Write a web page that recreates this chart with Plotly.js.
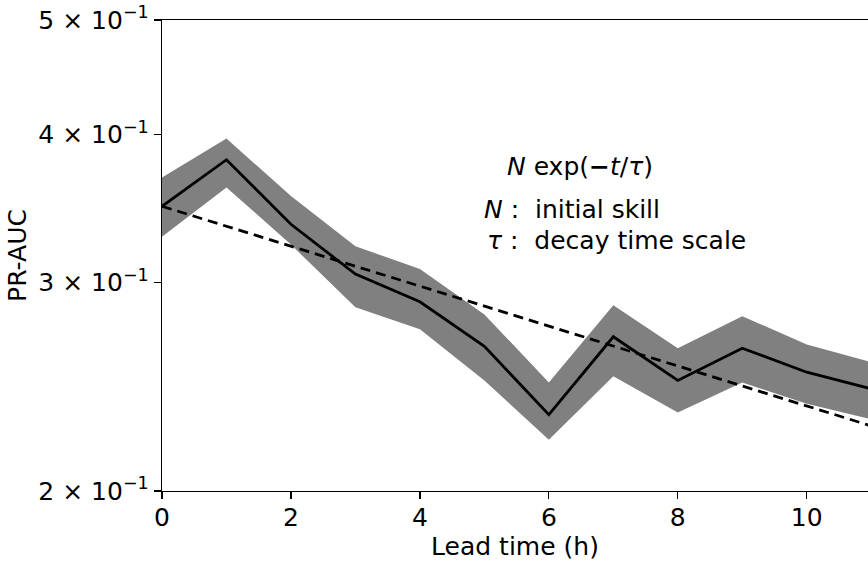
<!DOCTYPE html>
<html>
<head>
<meta charset="utf-8">
<script src="https://cdn.plot.ly/plotly-3.0.1.min.js"></script>
<style>
  html, body { margin: 0; padding: 0; background: #fff; }
  #chart { width: 868px; height: 563px; }
</style>
</head>
<body>
<div id="chart"></div>
<script>
// Lead time in hours
const leadTime = [0, 1, 2, 3, 4, 5, 6, 7, 8, 9, 10, 11];
// Mean PR-AUC at each lead time
const prAucMean = [0.348, 0.381, 0.336, 0.305, 0.289, 0.265, 0.232, 0.270, 0.248, 0.264, 0.252, 0.244];
// Upper and lower edges of the spread band
const prAucUpper = [0.368, 0.397, 0.355, 0.322, 0.308, 0.282, 0.247, 0.287, 0.264, 0.281, 0.266, 0.257];
const prAucLower = [0.328, 0.361, 0.323, 0.286, 0.274, 0.248, 0.221, 0.250, 0.233, 0.247, 0.237, 0.230];
// Exponential fit N exp(-t/tau), straight on the log axis
const fitTime = [0, 11];
const fitValues = [0.348, 0.227];
// Y tick positions and labels
const yTickVals = [0.2, 0.3, 0.4, 0.5];
const yTickText = ['2 × 10<sup>−1</sup>', '3 × 10<sup>−1</sup>', '4 × 10<sup>−1</sup>', '5 × 10<sup>−1</sup>'];
const xTickVals = [0, 2, 4, 6, 8, 10];

const FONT = 'DejaVu Sans, sans-serif';
const FS = 25;

const traces = [
  {
    x: leadTime, y: prAucLower, type: 'scatter', mode: 'lines',
    line: {width: 0, color: 'rgba(0,0,0,0)'}, hoverinfo: 'skip', showlegend: false
  },
  {
    x: leadTime, y: prAucUpper, type: 'scatter', mode: 'lines',
    fill: 'tonexty', fillcolor: '#808080',
    line: {width: 0, color: 'rgba(0,0,0,0)'}, hoverinfo: 'skip', showlegend: false
  },
  {
    x: leadTime, y: prAucMean, type: 'scatter', mode: 'lines',
    line: {color: '#000', width: 2.8}, showlegend: false
  },
  {
    x: fitTime, y: fitValues, type: 'scatter', mode: 'lines',
    line: {color: '#000', width: 2.8, dash: '10px,6px'}, showlegend: false
  }
];

const layout = {
  width: 868, height: 563,
  margin: {l: 162, r: 0, t: 20, b: 72},
  paper_bgcolor: '#fff', plot_bgcolor: '#fff',
  font: {family: FONT, size: FS, color: '#000'},
  showlegend: false,
  xaxis: {
    range: [0, 10.95],
    tickvals: xTickVals,
    ticks: 'outside', ticklen: 7, tickwidth: 1.3, tickcolor: '#000',
    ticklabelstandoff: -3,
    showline: true, linecolor: '#000', linewidth: 1.3, mirror: true,
    showgrid: false, zeroline: false,
    tickfont: {family: FONT, size: FS, color: '#000'},
    title: {text: 'Lead time (h)', font: {family: FONT, size: FS, color: '#000'}, standoff: 6}
  },
  yaxis: {
    type: 'log',
    range: [Math.log10(0.2), Math.log10(0.5)],
    tickvals: yTickVals, ticktext: yTickText,
    ticks: 'outside', ticklen: 7, tickwidth: 1.3, tickcolor: '#000',
    showline: true, linecolor: '#000', linewidth: 1.3,
    showgrid: false, zeroline: false,
    tickfont: {family: FONT, size: FS, color: '#000'},
    title: {text: 'PR-AUC', font: {family: FONT, size: FS, color: '#000'}, standoff: 4}
  },
  annotations: [
    {
      xref: 'paper', yref: 'paper', x: (580 - 162) / 706, y: (491 - 166) / 471,
      text: '<i>N</i> exp(<b>−</b><i>t</i>/<i>τ</i>)', showarrow: false,
      xanchor: 'center', yanchor: 'middle', font: {family: FONT, size: FS, color: '#000'}
    },
    {
      xref: 'paper', yref: 'paper', x: (482 - 162) / 706, y: (491 - 209) / 471,
      text: '<i>N</i> :  initial skill', showarrow: false,
      xanchor: 'left', yanchor: 'middle', font: {family: FONT, size: FS, color: '#000'}
    },
    {
      xref: 'paper', yref: 'paper', x: (485 - 162) / 706, y: (491 - 240) / 471,
      text: '<i>τ</i> :  decay time scale', showarrow: false,
      xanchor: 'left', yanchor: 'middle', font: {family: FONT, size: FS, color: '#000'}
    }
  ]
};

Plotly.newPlot('chart', traces, layout, {staticPlot: true, displayModeBar: false});
</script>
</body>
</html>
